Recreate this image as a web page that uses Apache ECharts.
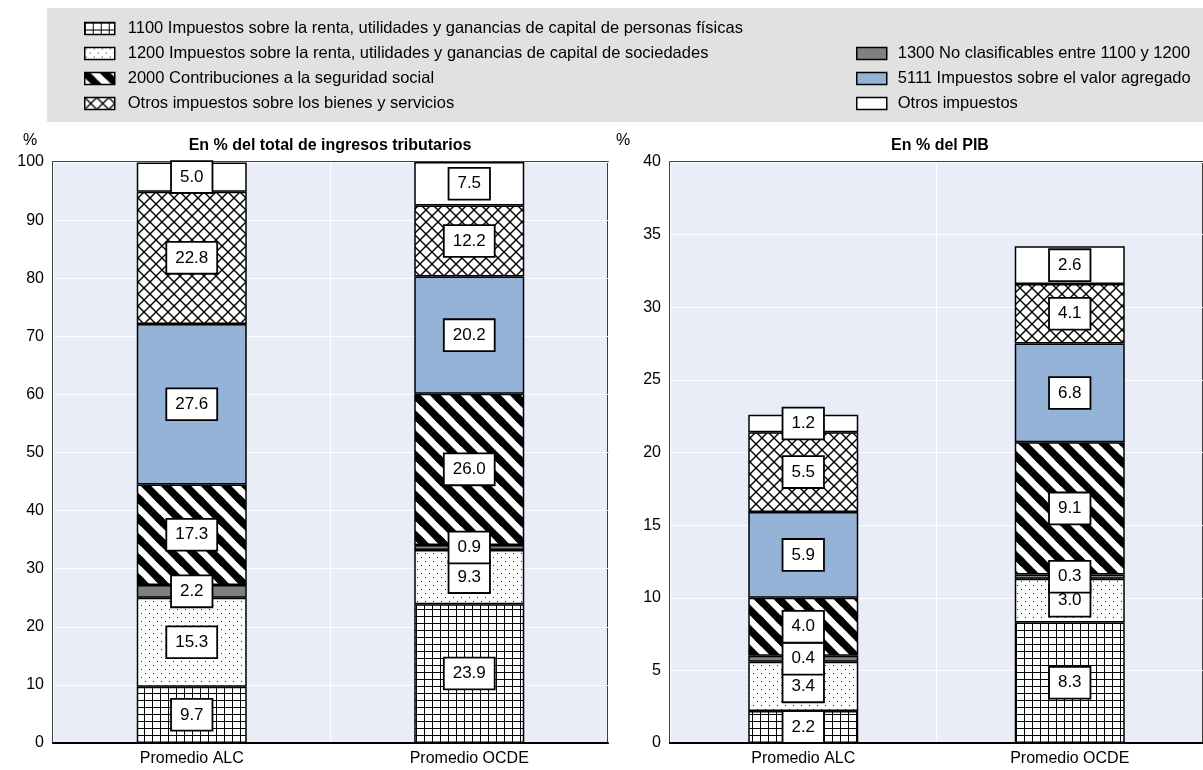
<!DOCTYPE html>
<html>
<head>
<meta charset="utf-8">
<script src="https://cdn.jsdelivr.net/npm/echarts@6/dist/echarts.min.js"></script>
<style>
html,body{margin:0;padding:0;background:#fff;}
#chart{width:1203px;height:770px;}
</style>
</head>
<body>
<div id="chart"></div>
<script>
// ---- data ----
const categories = ['Promedio ALC', 'Promedio OCDE'];
const seriesNames = [
  '1100 Impuestos sobre la renta, utilidades y ganancias de capital de personas físicas',
  '1200 Impuestos sobre la renta, utilidades y ganancias de capital de sociedades',
  '1300 No clasificables entre 1100 y 1200',
  '2000 Contribuciones a la seguridad social',
  '5111 Impuestos sobre el valor agregado',
  'Otros impuestos sobre los bienes y servicios',
  'Otros impuestos'
];
// % of total tax revenue, per category (order of seriesNames)
const totalALC  = [9.7, 15.3, 2.2, 17.3, 27.6, 22.8, 5.0];
const totalOCDE = [23.9, 9.3, 0.9, 26.0, 20.2, 12.2, 7.5];
// % of GDP
const gdpALC  = [2.2, 3.4, 0.4, 4.0, 5.9, 5.5, 1.2];
const gdpOCDE = [8.3, 3.0, 0.3, 9.1, 6.8, 4.1, 2.6];
const leftAxis  = {min: 0, max: 100, interval: 10};
const rightAxis = {min: 0, max: 40, interval: 5};
const panelTitles = ['En % del total de ingresos tributarios', 'En % del PIB'];

// ---- patterns ----
function makeTile(w, h, draw) {
  const c = document.createElement('canvas');
  c.width = w; c.height = h;
  const ctx = c.getContext('2d');
  ctx.fillStyle = '#fff';
  ctx.fillRect(0, 0, w, h);
  draw(ctx, w, h);
  return {image: c, repeat: 'repeat'};
}
const patGrid = makeTile(8, 7, (ctx, w, h) => {
  ctx.fillStyle = '#000';
  ctx.fillRect(0, 0, w, 1);
  ctx.fillRect(0, 0, 1, h);
});
const patDots = makeTile(8, 8, (ctx) => {
  ctx.fillStyle = '#222';
  ctx.fillRect(1, 1, 1, 1);
  ctx.fillRect(5, 5, 1, 1);
});
const patStripes = makeTile(20, 20, (ctx, s) => {
  ctx.strokeStyle = '#000';
  ctx.lineWidth = 7.5;
  ctx.lineCap = 'square';
  [[0, 0, s, s], [-s, 0, 0, s], [s, 0, 2 * s, s], [0, -s, s, 0], [0, s, s, 2*s]].forEach(l => {
    ctx.beginPath(); ctx.moveTo(l[0], l[1]); ctx.lineTo(l[2], l[3]); ctx.stroke();
  });
});
const patCross = makeTile(12, 12, (ctx, s) => {
  ctx.strokeStyle = '#000';
  ctx.lineWidth = 1.4;
  [[-1, -1, s + 1, s + 1], [s + 1, -1, -1, s + 1]].forEach(l => {
    ctx.beginPath(); ctx.moveTo(l[0], l[1]); ctx.lineTo(l[2], l[3]); ctx.stroke();
  });
});
const colors = [patGrid, patDots, '#808080', patStripes, '#95b3d7', patCross, '#ffffff'];

const FONT = "'Liberation Sans Narrow', 'Arial Narrow', 'Liberation Sans', sans-serif";

function buildSeries(valsA, valsB, axisIdx) {
  return seriesNames.map((name, i) => ({
    name: name,
    type: 'bar',
    stack: 'p' + axisIdx,
    xAxisIndex: axisIdx,
    yAxisIndex: axisIdx,
    barWidth: 110,
    data: [valsA[i], valsB[i]],
    itemStyle: {color: colors[i], borderColor: '#000', borderWidth: 1.5},
    label: {
      show: true,
      position: 'inside',
      formatter: p => p.value.toFixed(1),
      fontFamily: FONT,
      fontSize: 17,
      lineHeight: 17,
      color: '#000',
      backgroundColor: '#fff',
      borderColor: '#000',
      borderWidth: 1.8,
      padding: [7, 8, 6, 8]
    },
    emphasis: {disabled: true}
  }));
}

const gridCommon = {top: 162, height: 581, show: true, backgroundColor: '#e9edf7', borderColor: '#000', borderWidth: 1.5};
function yAx(gi, ax) {
  return {
    type: 'value', gridIndex: gi, min: ax.min, max: ax.max, interval: ax.interval,
    axisLine: {show: false}, axisTick: {show: false},
    axisLabel: {fontFamily: FONT, fontSize: 16, color: '#000', margin: 9},
    splitLine: {show: true, lineStyle: {color: '#fff', width: 1}}
  };
}
function xAx(gi) {
  return {
    type: 'category', gridIndex: gi, data: categories,
    axisLine: {show: true, lineStyle: {color: '#000', width: 2}},
    axisTick: {show: false},
    axisLabel: {fontFamily: FONT, fontSize: 16, color: '#000', margin: 8},
    splitLine: {show: true, lineStyle: {color: '#fff', width: 1}}
  };
}

const option = {
  animation: false,
  textStyle: {fontFamily: FONT},
  graphic: [
    {type: 'rect', shape: {x: 47, y: 8, width: 1160, height: 114}, style: {fill: '#e1e1e1'}, z: -10},
    {type: 'text', left: 23, top: 133, style: {text: '%', font: '16px ' + FONT, fill: '#000'}},
    {type: 'text', left: 616, top: 133, style: {text: '%', font: '16px ' + FONT, fill: '#000'}}
  ],
  title: [
    {text: panelTitles[0], left: 330, top: 138, textAlign: 'center', padding: 0,
     textStyle: {fontFamily: FONT, fontSize: 16, fontWeight: 'bold', color: '#000'}},
    {text: panelTitles[1], left: 940, top: 138, textAlign: 'center', padding: 0,
     textStyle: {fontFamily: FONT, fontSize: 16, fontWeight: 'bold', color: '#000'}}
  ],
  legend: [
    {
      data: [seriesNames[0], seriesNames[1], seriesNames[3], seriesNames[5]],
      orient: 'vertical', left: 84, top: 20, padding: 0, itemGap: 8,
      itemWidth: 30, itemHeight: 12, icon: 'rect', selectedMode: false,
      itemStyle: {borderColor: '#000', borderWidth: 1.5},
      textStyle: {fontFamily: FONT, fontSize: 16.5, lineHeight: 16, color: '#000', padding: [0, 0, 0, 8]}
    },
    {
      data: [seriesNames[2], seriesNames[4], seriesNames[6]],
      orient: 'vertical', left: 856, top: 45, padding: 0, itemGap: 8,
      itemWidth: 30, itemHeight: 12, icon: 'rect', selectedMode: false,
      itemStyle: {borderColor: '#000', borderWidth: 1.5},
      textStyle: {fontFamily: FONT, fontSize: 16.5, lineHeight: 16, color: '#000', padding: [0, 0, 0, 6]}
    }
  ],
  grid: [
    Object.assign({left: 53, width: 555}, gridCommon),
    Object.assign({left: 670, width: 542}, gridCommon)
  ],
  xAxis: [xAx(0), xAx(1)],
  yAxis: [yAx(0, leftAxis), yAx(1, rightAxis)],
  series: buildSeries(totalALC, totalOCDE, 0).concat(buildSeries(gdpALC, gdpOCDE, 1))
};

const chart = echarts.init(document.getElementById('chart'));
chart.setOption(option);
</script>
</body>
</html>
